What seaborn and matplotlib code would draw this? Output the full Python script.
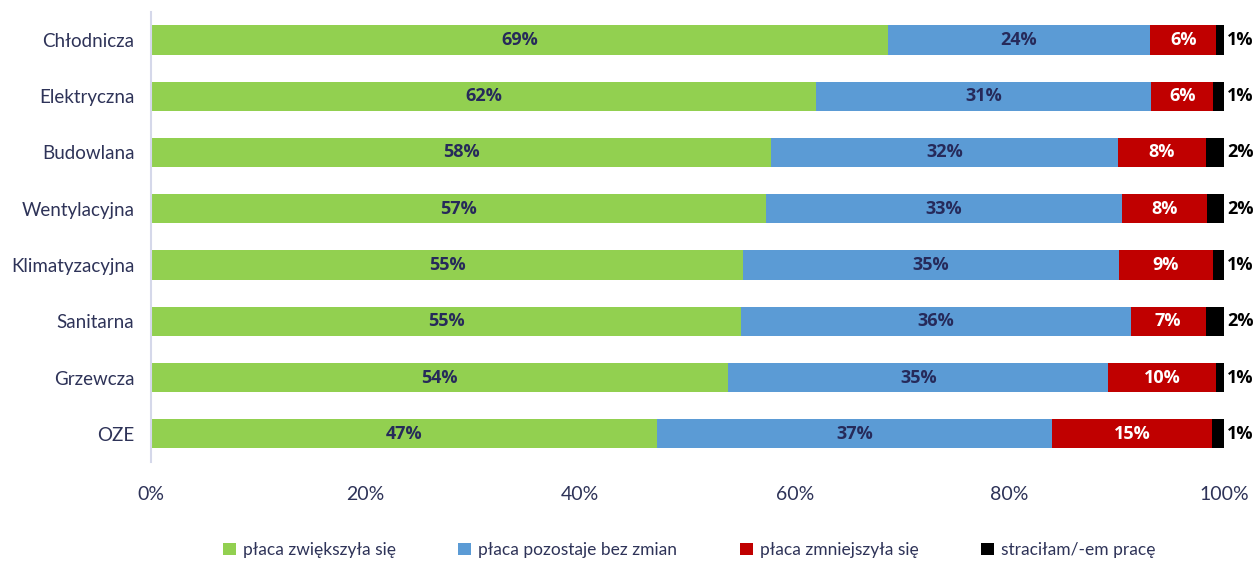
import numpy as np
import pandas as pd
import matplotlib
matplotlib.use("Agg")
import matplotlib.pyplot as plt
import seaborn as sns
from matplotlib.patches import Patch

categories = ["Chłodnicza", "Elektryczna", "Budowlana", "Wentylacyjna",
              "Klimatyzacyjna", "Sanitarna", "Grzewcza", "OZE"]
series_names = ["płaca zwiększyła się", "płaca pozostaje bez zmian",
                "płaca zmniejszyła się", "straciłam/-em pracę"]
increased = [68.7, 62.0, 57.8, 57.3, 55.2, 55.0, 53.8, 47.2]
unchanged = [24.4, 31.2, 32.3, 33.2, 35.0, 36.3, 35.4, 36.8]
decreased = [6.2, 5.8, 8.2, 7.9, 8.8, 7.0, 10.1, 14.9]
lost_job = [0.7, 1.0, 1.7, 1.6, 1.0, 1.7, 0.7, 1.1]
x_ticks = [0, 20, 40, 60, 80, 100]

colors = ["#92D050", "#5B9BD5", "#C00000", "#000000"]
label_colors = ["#262A5A", "#262A5A", "#FFFFFF", "#000000"]
navy = "#2E3358"
bold_font = ["Open Sans", "DejaVu Sans"]

sns.set_theme(style="white")
plt.rcParams["font.family"] = ["Lato", "DejaVu Sans"]

df = pd.DataFrame({"kategoria": categories})
series = [increased, unchanged, decreased, lost_job]
for name, vals in zip(series_names, series):
    df[name] = vals
cum = df[series_names].cumsum(axis=1)

fig = plt.figure(figsize=(12.55, 5.64), dpi=100)
ax = fig.add_axes([0.1203, 0.181, 0.855, 0.798])

# stacked bars: draw cumulative totals from the back to the front
for i in range(len(series_names) - 1, -1, -1):
    sns.barplot(x=cum[series_names[i]], y=df["kategoria"], orient="h",
                color=colors[i], width=0.52, saturation=1, ax=ax, linewidth=0)

for r in range(len(categories)):
    left = 0
    for i, name in enumerate(series_names):
        v = df.loc[r, name]
        lab = f"{v:.0f}%"
        if i < 3:
            ax.text(left + v / 2, r, lab, ha="center", va="center",
                    color=label_colors[i], fontsize=13, fontweight="bold",
                    family=bold_font)
        else:
            ax.text(101.5, r, lab, ha="center", va="center", color="black",
                    fontsize=13, fontweight="bold", clip_on=False,
                    family=bold_font)
        left += v

ax.set_xlim(0, 100)
ax.set_ylim(7.5, -0.5)
ax.set_xticks(x_ticks)
ax.set_xticklabels([f"{t}%" for t in x_ticks])
ax.set_xlabel("")
ax.set_ylabel("")
ax.tick_params(axis="both", length=0, colors=navy)
ax.tick_params(axis="x", pad=17, labelsize=14)
ax.tick_params(axis="y", pad=12, labelsize=13.5)
for s in ["top", "right", "bottom"]:
    ax.spines[s].set_visible(False)
ax.spines["left"].set_color("#D5D8EA")
ax.spines["left"].set_linewidth(1.5)

handles = [Patch(facecolor=c, edgecolor="none", label=n) for c, n in zip(colors, series_names)]
fig.legend(handles=handles, loc="lower center", ncol=4, frameon=False,
           bbox_to_anchor=(0.549, -0.017), fontsize=12.5, handlelength=0.75,
           handleheight=0.75, handletextpad=0.4, columnspacing=3.6,
           labelcolor=navy)

fig.savefig("out.png", dpi=100)
